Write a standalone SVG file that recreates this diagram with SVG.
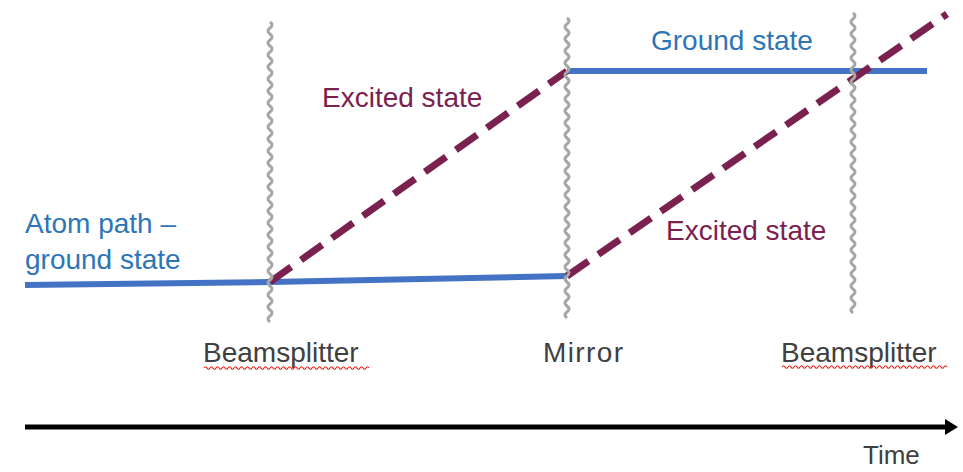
<svg xmlns="http://www.w3.org/2000/svg" width="963" height="472" viewBox="0 0 963 472">
<style>
.wave{fill:none;stroke:#a6a6a6;stroke-width:3}
.blue{fill:none;stroke:#4472c4;stroke-width:6}
.dash{fill:none;stroke:#7b2150;stroke-width:7;stroke-dasharray:26 12}
.squig{fill:none;stroke:#e0241b;stroke-width:1.2}
text{font-family:"Liberation Sans",Arial,sans-serif;font-size:28px}
.tb{fill:#2e75b6}
.tp{fill:#7b2150}
.tk{fill:#404040}
</style>
<g id="connectors">
<path class="blue" d="M25,285 L270,282 L567,276"/>
<path class="blue" d="M567,71 L927,71"/>
<path class="dash" d="M270,282 L567,71"/>
<path class="dash" d="M567,276 L947,14"/>
<path d="M25,427 L947,427" stroke="#000" stroke-width="5" fill="none"/>
<path d="M945,419 L958,427 L945,435 Z" fill="#000"/>
</g>
<g id="beamsplitter1">
<path class="wave" d="M270,22 q4,3 0,6 t0,6 t0,6 t0,6 t0,6 t0,6 t0,6 t0,6 t0,6 t0,6 t0,6 t0,6 t0,6 t0,6 t0,6 t0,6 t0,6 t0,6 t0,6 t0,6 t0,6 t0,6 t0,6 t0,6 t0,6 t0,6 t0,6 t0,6 t0,6 t0,6 t0,6 t0,6 t0,6 t0,6 t0,6 t0,6 t0,6 t0,6 t0,6 t0,6 t0,6 t0,6 t0,6 t0,6 t0,6 t0,6 t0,6 t0,6 t0,6 t0,6"/>
<text class="tk" x="203" y="362">Beamsplitter</text>
<path class="squig" d="M204,368 q1.5,-2.5 3,0 t3,0 t3,0 t3,0 t3,0 t3,0 t3,0 t3,0 t3,0 t3,0 t3,0 t3,0 t3,0 t3,0 t3,0 t3,0 t3,0 t3,0 t3,0 t3,0 t3,0 t3,0 t3,0 t3,0 t3,0 t3,0 t3,0 t3,0 t3,0 t3,0 t3,0 t3,0 t3,0 t3,0 t3,0 t3,0 t3,0 t3,0 t3,0 t3,0 t3,0 t3,0 t3,0 t3,0 t3,0 t3,0 t3,0 t3,0 t3,0 t3,0 t3,0 t3,0 t3,0 t3,0 t3,0"/>
</g>
<g id="mirror">
<path class="wave" d="M567,18 q4,3 0,6 t0,6 t0,6 t0,6 t0,6 t0,6 t0,6 t0,6 t0,6 t0,6 t0,6 t0,6 t0,6 t0,6 t0,6 t0,6 t0,6 t0,6 t0,6 t0,6 t0,6 t0,6 t0,6 t0,6 t0,6 t0,6 t0,6 t0,6 t0,6 t0,6 t0,6 t0,6 t0,6 t0,6 t0,6 t0,6 t0,6 t0,6 t0,6 t0,6 t0,6 t0,6 t0,6 t0,6 t0,6 t0,6 t0,6 t0,6 t0,6 t0,6"/>
<text class="tk" x="543" y="362" textLength="80">Mirror</text>
</g>
<g id="beamsplitter2">
<path class="wave" d="M853,13 q4,3 0,6 t0,6 t0,6 t0,6 t0,6 t0,6 t0,6 t0,6 t0,6 t0,6 t0,6 t0,6 t0,6 t0,6 t0,6 t0,6 t0,6 t0,6 t0,6 t0,6 t0,6 t0,6 t0,6 t0,6 t0,6 t0,6 t0,6 t0,6 t0,6 t0,6 t0,6 t0,6 t0,6 t0,6 t0,6 t0,6 t0,6 t0,6 t0,6 t0,6 t0,6 t0,6 t0,6 t0,6 t0,6 t0,6 t0,6 t0,6 t0,6 t0,6"/>
<text class="tk" x="781" y="362">Beamsplitter</text>
<path class="squig" d="M782,367 q1.5,-2.5 3,0 t3,0 t3,0 t3,0 t3,0 t3,0 t3,0 t3,0 t3,0 t3,0 t3,0 t3,0 t3,0 t3,0 t3,0 t3,0 t3,0 t3,0 t3,0 t3,0 t3,0 t3,0 t3,0 t3,0 t3,0 t3,0 t3,0 t3,0 t3,0 t3,0 t3,0 t3,0 t3,0 t3,0 t3,0 t3,0 t3,0 t3,0 t3,0 t3,0 t3,0 t3,0 t3,0 t3,0 t3,0 t3,0 t3,0 t3,0 t3,0 t3,0 t3,0 t3,0 t3,0 t3,0 t3,0"/>
</g>
<g id="labels">
<text class="tb" x="25" y="233">Atom path –</text>
<text class="tb" x="25" y="269">ground state</text>
<text class="tp" x="322" y="107">Excited state</text>
<text class="tb" x="651" y="50">Ground state</text>
<text class="tp" x="666" y="240">Excited state</text>
<text class="tk" x="863" y="464" style="font-size:26px">Time</text>
</g>
</svg>
